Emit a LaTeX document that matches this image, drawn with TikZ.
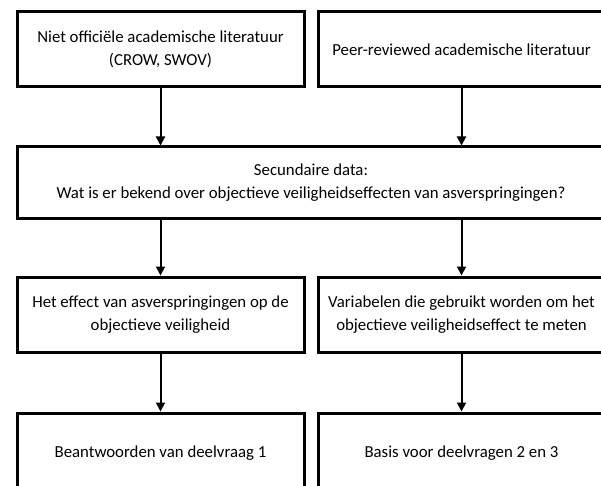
\documentclass[tikz,border=0pt]{standalone}
\usepackage{fontspec}
\setmainfont{Carlito}
\usetikzlibrary{arrows.meta}
\begin{document}
\begin{tikzpicture}[x=1pt,y=-1pt,
  box/.style={draw=black,line width=3pt,rectangle,align=center,
    font=\fontsize{16.8}{23}\selectfont,inner sep=0pt},
  halfbox/.style={box,minimum width=287pt,minimum height=75pt},
  arr/.style={line width=2pt,-{Triangle[width=9pt,length=9pt]}}]
\useasboundingbox (0,0) rectangle (601,486);
\clip (0,0) rectangle (601,486);
\fill[white] (0,0) rectangle (601,486);
\node[halfbox] (b1) at (160.5,49.5) {Niet officiële academische literatuur\\(CROW, SWOV)};
\node[halfbox] (b2) at (461.5,49.5) {Peer-reviewed academische literatuur};
\node[box,minimum width=588pt,minimum height=71pt] (sec) at (311,182.5)
  {Secundaire data:\\Wat is er bekend over objectieve veiligheidseffecten van asverspringingen?};
\node[halfbox] (r3l) at (160.5,314.5) {Het effect van asverspringingen op de\\objectieve veiligheid};
\node[halfbox] (r3r) at (461.5,314.5) {Variabelen die gebruikt worden om het\\objectieve veiligheidseffect te meten};
\node[halfbox,minimum height=80pt] (r4l) at (160.5,453) {Beantwoorden van deelvraag 1};
\node[halfbox,minimum height=80pt] (r4r) at (461.5,453) {Basis voor deelvragen 2 en 3};
\draw[arr] (b1.south) -- (b1.south |- sec.north);
\draw[arr] (b2.south) -- (b2.south |- sec.north);
\draw[arr] (sec.south -| r3l.north) -- (r3l.north);
\draw[arr] (sec.south -| r3r.north) -- (r3r.north);
\draw[arr] (r3l.south) -- (r4l.north);
\draw[arr] (r3r.south) -- (r4r.north);
\end{tikzpicture}
\end{document}
